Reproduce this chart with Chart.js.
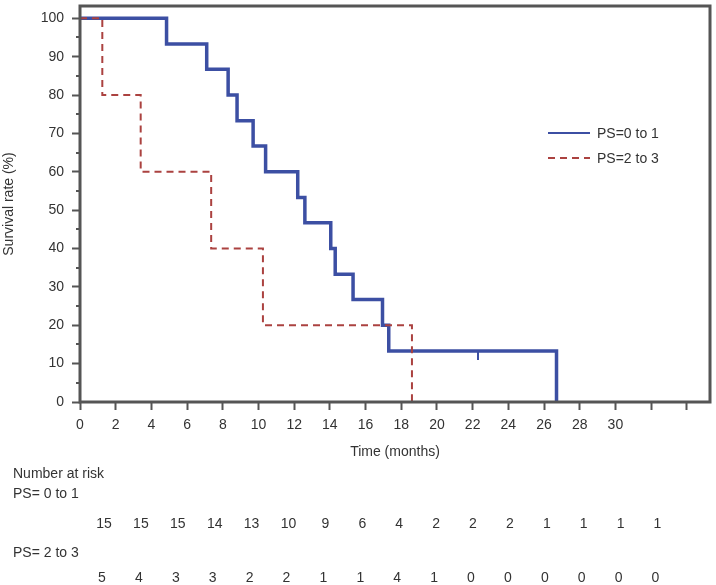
<!DOCTYPE html>
<html>
<head>
<meta charset="utf-8">
<script src="https://cdn.jsdelivr.net/npm/chart.js@4.4.1/dist/chart.umd.min.js"></script>
<style>
  html, body { margin: 0; padding: 0; background: #fff; }
  #wrap { width: 716px; height: 585px; }
</style>
</head>
<body>
<div id="wrap"><canvas id="myChart" width="716" height="585"></canvas></div>
<script>
const FONT = "'Liberation Sans', Arial, sans-serif";
const FSIZE = 14;
const BLUE = '#3c4fa3';
const RED = '#ab4240';
const INK = '#333333';
const AXIS = '#555555';

// survival curves (months, %)
const seriesNames = ['PS=0 to 1', 'PS=2 to 3'];
const timeGood = [0, 4.85, 7.1, 8.3, 8.8, 9.7, 10.4, 12.2, 12.6, 14.05, 14.3, 15.3, 16.95, 17.3, 26.7];
const survGood = [100, 93.3, 86.7, 80, 73.3, 66.7, 60, 53.3, 46.7, 40, 33.3, 26.7, 20, 13.3, 0];
const timePoor = [0, 1.25, 3.4, 7.35, 10.25, 18.6];
const survPoor = [100, 80, 60, 40, 20, 0];
const censorTime = [22.3];
const censorSurv = [13.3];

// axes
const xTicks = [0, 2, 4, 6, 8, 10, 12, 14, 16, 18, 20, 22, 24, 26, 28, 30, 32, 34];
const xLabelMax = 30;
const yTicks = [0, 10, 20, 30, 40, 50, 60, 70, 80, 90, 100];
const yMinorTicks = [5, 15, 25, 35, 45, 55, 65, 75, 85, 95];
const xMax = 35.3;
const yMax = 103.2;

// number at risk table
const riskTitle = 'Number at risk';
const riskLabels = ['PS= 0 to 1', 'PS= 2 to 3'];
const riskGood = [15, 15, 15, 14, 13, 10, 9, 6, 4, 2, 2, 2, 1, 1, 1, 1];
const riskPoor = [5, 4, 3, 3, 2, 2, 1, 1, 4, 1, 0, 0, 0, 0, 0, 0];

function toPoints(xs, ys) {
    return xs.map((x, i) => ({ x: x, y: ys[i] }));
}

// censor tick: short vertical stroke hanging below the curve
const censorMark = document.createElement('canvas');
censorMark.width = 2;
censorMark.height = 18;
const cm = censorMark.getContext('2d');
cm.fillStyle = BLUE;
cm.fillRect(0, 9, 2, 9);

const framePlugin = {
    id: 'frame',
    afterDatasetsDraw(chart) {
        const { ctx, chartArea: a, scales } = chart;
        ctx.save();
        // minor y ticks
        ctx.strokeStyle = AXIS;
        ctx.lineWidth = 2;
        yMinorTicks.forEach(v => {
            const y = Math.round(scales.y.getPixelForValue(v));
            ctx.beginPath();
            ctx.moveTo(a.left - 4, y);
            ctx.lineTo(a.left, y);
            ctx.stroke();
        });
        ctx.lineWidth = 3;
        ctx.strokeRect(a.left, a.top, a.right - a.left, a.bottom - a.top);
        ctx.restore();
    }
};

const legendPlugin = {
    id: 'innerLegend',
    afterDraw(chart) {
        const { ctx, chartArea: a } = chart;
        const sets = chart.data.datasets.filter(d => d.label);
        ctx.save();
        ctx.font = FSIZE + 'px ' + FONT;
        ctx.textBaseline = 'middle';
        ctx.fillStyle = INK;
        sets.forEach((d, i) => {
            const y = 133 + i * 25;
            const x0 = a.left + 468;
            ctx.strokeStyle = d.borderColor;
            ctx.lineWidth = 2;
            ctx.setLineDash(d.borderDash || []);
            ctx.beginPath();
            ctx.moveTo(x0, y);
            ctx.lineTo(x0 + 42, y);
            ctx.stroke();
            ctx.setLineDash([]);
            ctx.fillText(d.label, x0 + 49, y + 1);
        });
        ctx.restore();
    }
};

const riskPlugin = {
    id: 'riskTable',
    afterDraw(chart) {
        const { ctx } = chart;
        ctx.save();
        ctx.font = FSIZE + 'px ' + FONT;
        ctx.fillStyle = INK;
        ctx.textBaseline = 'middle';
        ctx.textAlign = 'left';
        ctx.fillText(riskTitle, 13, 474);
        ctx.fillText(riskLabels[0], 13, 494);
        ctx.fillText(riskLabels[1], 13, 553);
        ctx.textAlign = 'center';
        const step = 36.9;
        riskGood.forEach((n, i) => ctx.fillText(String(n), 104 + i * step, 524));
        riskPoor.forEach((n, i) => ctx.fillText(String(n), 102 + i * step, 578));
        ctx.restore();
    }
};

function myLoadFunction() {
    const ctx = document.getElementById('myChart').getContext('2d');
    const myChartConfig = {
        type: 'line',
        data: {
            datasets: [
                {
                    label: seriesNames[0],
                    data: toPoints(timeGood, survGood),
                    borderColor: BLUE,
                    borderWidth: 3.5,
                    stepped: true,
                    pointRadius: 0,
                    fill: false,
                    order: 2
                },
                {
                    label: seriesNames[1],
                    data: toPoints(timePoor, survPoor),
                    borderColor: RED,
                    borderWidth: 2,
                    borderDash: [7, 5],
                    stepped: true,
                    pointRadius: 0,
                    fill: false,
                    order: 1
                },
                {
                    label: '',
                    data: toPoints(censorTime, censorSurv),
                    showLine: false,
                    pointStyle: censorMark,
                    pointRadius: 5,
                    order: 0
                }
            ]
        },
        options: {
            responsive: false,
            animation: false,
            layout: { padding: { left: 0, top: 5, right: 6, bottom: 124 } },
            plugins: {
                legend: { display: false },
                tooltip: { enabled: false }
            },
            scales: {
                x: {
                    type: 'linear',
                    min: 0,
                    max: xMax,
                    border: { display: false },
                    grid: { drawOnChartArea: false, tickLength: 8, tickColor: AXIS, tickWidth: 2 },
                    ticks: {
                        padding: 7,
                        color: INK,
                        font: { family: FONT, size: FSIZE },
                        maxRotation: 0,
                        autoSkip: false,
                        callback: v => (v <= xLabelMax ? v : '')
                    },
                    afterBuildTicks: s => { s.ticks = xTicks.map(v => ({ value: v })); },
                    afterFit: s => { s.height = 59; s.paddingLeft = 0; s.paddingRight = 0; },
                    title: {
                        display: true,
                        text: 'Time (months)',
                        color: INK,
                        font: { family: FONT, size: FSIZE },
                        padding: 0
                    }
                },
                y: {
                    min: 0,
                    max: yMax,
                    border: { display: false },
                    grid: { drawOnChartArea: false, tickLength: 8, tickColor: AXIS, tickWidth: 2 },
                    ticks: {
                        padding: 8,
                        color: INK,
                        font: { family: FONT, size: FSIZE },
                        autoSkip: false
                    },
                    afterBuildTicks: s => { s.ticks = yTicks.map(v => ({ value: v })); },
                    afterFit: s => { s.width = 80; s.paddingTop = 0; s.paddingBottom = 0; },
                    title: {
                        display: true,
                        text: 'Survival rate (%)',
                        color: INK,
                        font: { family: FONT, size: FSIZE },
                        padding: 1
                    }
                }
            }
        },
        plugins: [framePlugin, legendPlugin, riskPlugin]
    };
    const myChart = new Chart(ctx, myChartConfig);
}

document.addEventListener('DOMContentLoaded', myLoadFunction);
</script>
</body>
</html>
